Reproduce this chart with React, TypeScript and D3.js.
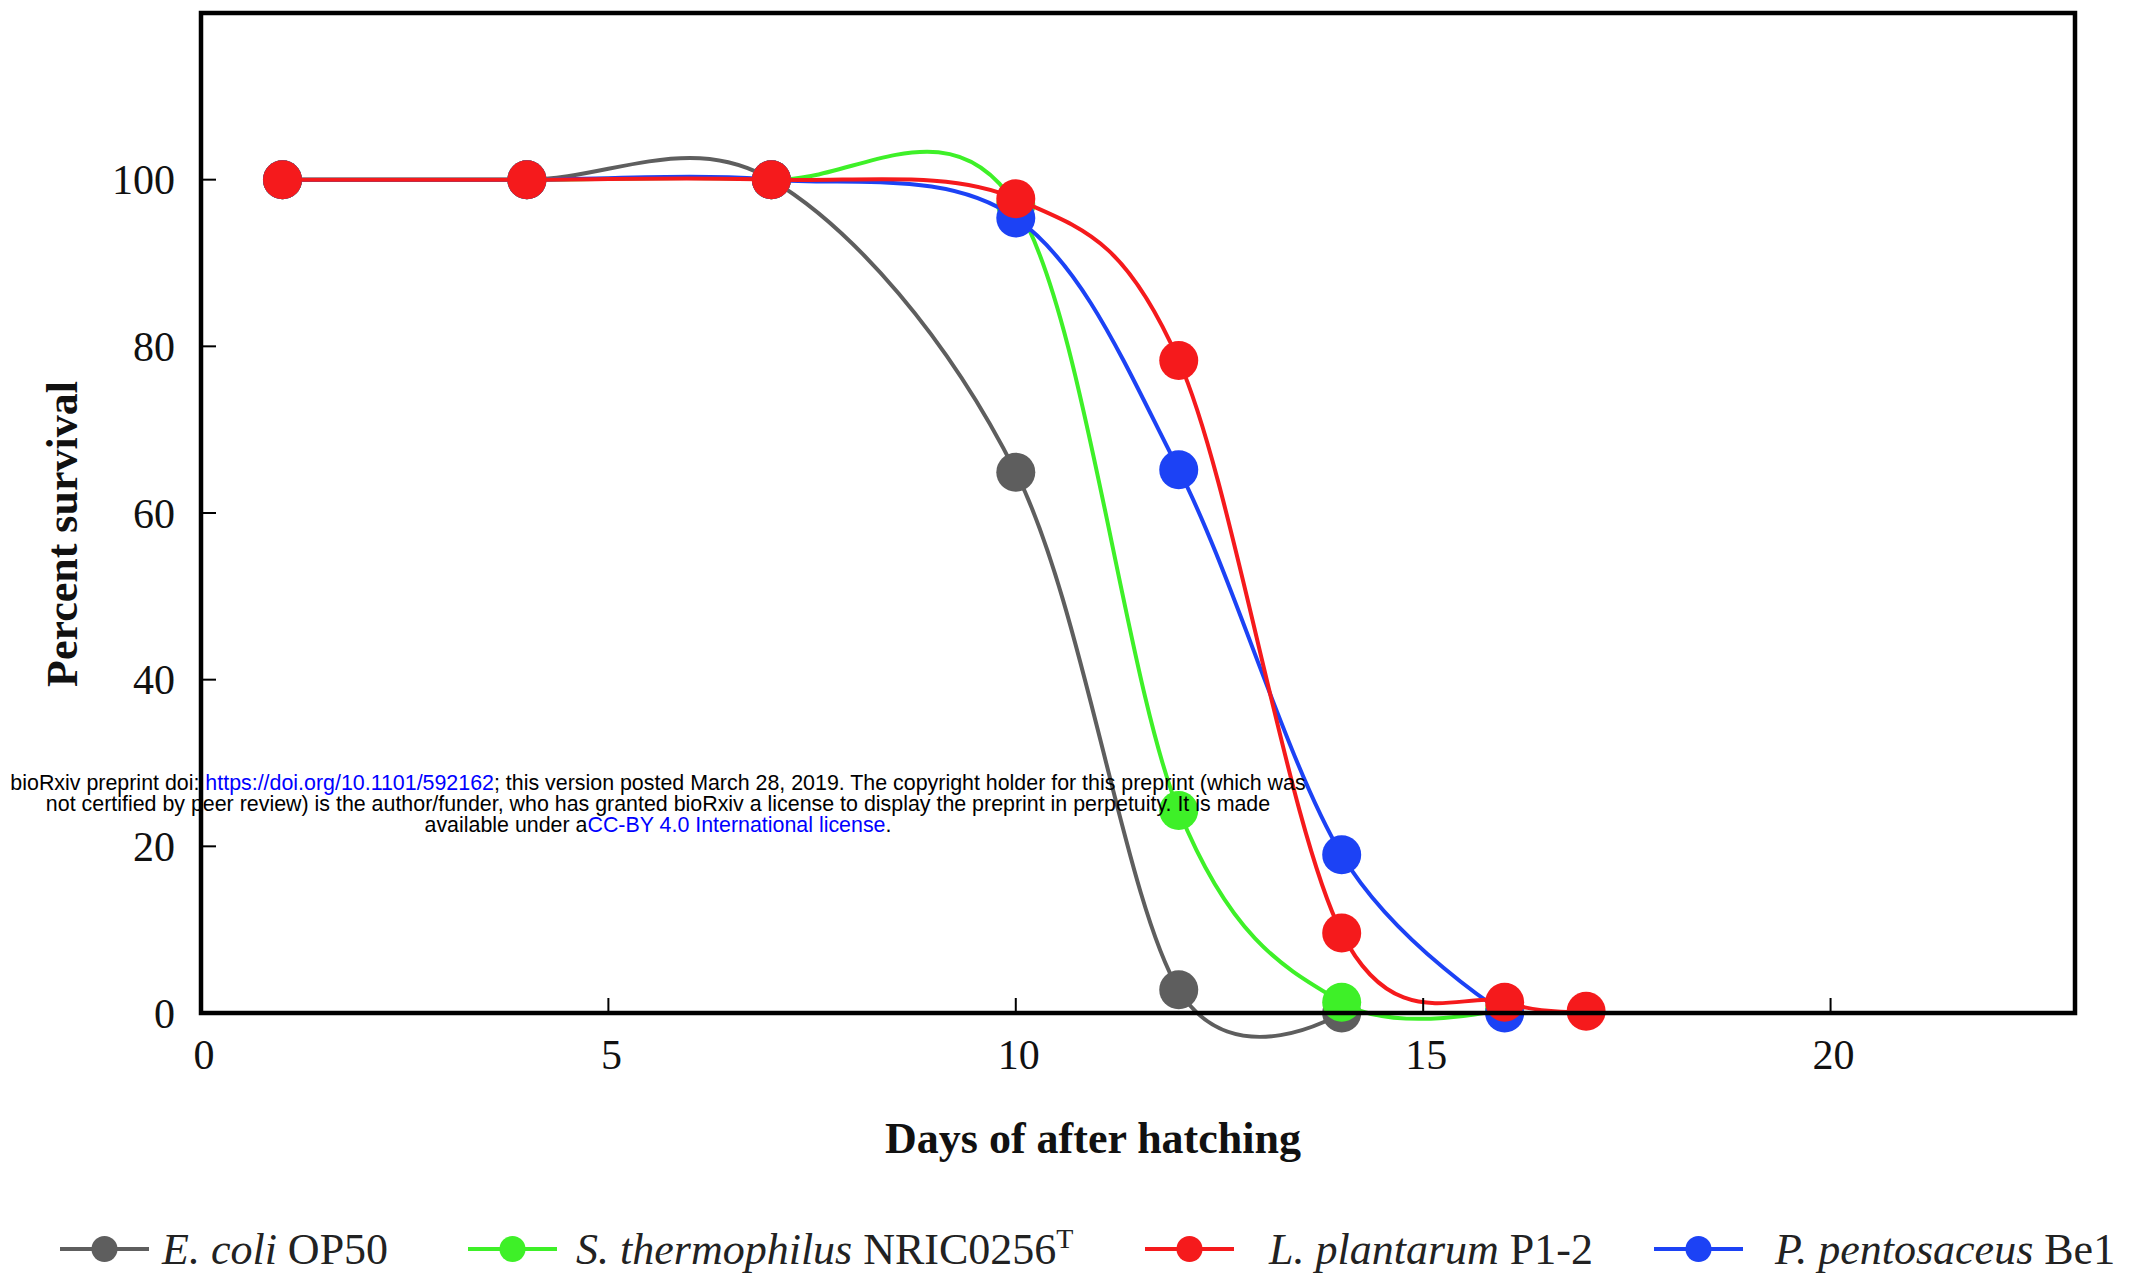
import React from 'react';
import * as d3 from 'd3';

const ecoliDays = [1, 4, 7, 10, 12, 14];
const ecoliSurv = [100, 100, 100, 64.9, 2.8, 0];
const sthermDays = [1, 4, 7, 10, 12, 14, 16];
const sthermSurv = [100, 100, 100, 97, 24.3, 1.3, 0.5];
const lplantDays = [1, 4, 7, 10, 12, 14, 16, 17];
const lplantSurv = [100, 100, 100, 97.7, 78.3, 9.6, 1.3, 0.2];
const ppentDays = [1, 4, 7, 10, 12, 14, 16];
const ppentSurv = [100, 100, 100, 95.4, 65.2, 19, 0];

const xTicks = [0, 5, 10, 15, 20];
const yTicks = [0, 20, 40, 60, 80, 100];

type Series = { key: string; italic: string; plain: string; sup?: string; color: string; days: number[]; surv: number[] };

const seriesList: Series[] = [
  { key: 'ecoli', italic: 'E. coli', plain: ' OP50', color: '#5e5e5e', days: ecoliDays, surv: ecoliSurv },
  { key: 'stherm', italic: 'S. thermophilus', plain: ' NRIC0256', sup: 'T', color: '#3ef028', days: sthermDays, surv: sthermSurv },
  { key: 'lplant', italic: 'L. plantarum', plain: ' P1-2', color: '#f51a1c', days: lplantDays, surv: lplantSurv },
  { key: 'ppent', italic: 'P. pentosaceus', plain: ' Be1', color: '#1c42f5', days: ppentDays, surv: ppentSurv },
];
const drawOrder = ['ecoli', 'stherm', 'ppent', 'lplant'];
const legendX = [60, 468, 1145, 1654];
const legendTextX = [162, 576, 1269, 1775];

export default function App() {
  const W = 2147, H = 1280;
  const x = d3.scaleLinear().domain([0, 23]).range([201, 2075]);
  const y = d3.scaleLinear().domain([0, 120]).range([1013, 13]);
  const line = d3.line<[number, number]>()
    .x(d => x(d[0]))
    .y(d => y(d[1]))
    .curve(d3.curveCardinal.tension(0));
  const serif = '"Liberation Serif", "DejaVu Serif", serif';
  const sans = '"Liberation Sans", Arial, sans-serif';

  return (
    <svg width={W} height={H} style={{ position: 'absolute', left: 0, top: 0, background: '#fff' }}>
      <rect x={0} y={0} width={W} height={H} fill="#fff" />
      {drawOrder.map(k => {
        const s = seriesList.find(z => z.key === k)!;
        const pts: [number, number][] = s.days.map((d, i) => [d, s.surv[i]]);
        return (
          <g key={k}>
            <path d={line(pts) || ''} fill="none" stroke={s.color} strokeWidth={4} />
            {pts.map((p, i) => (
              <circle key={i} cx={x(p[0])} cy={y(p[1])} r={19.5} fill={s.color} />
            ))}
          </g>
        );
      })}
      <rect x={x(0)} y={y(120)} width={x(23) - x(0)} height={y(0) - y(120)} fill="none" stroke="#000" strokeWidth={4.5} />
      {yTicks.map(t => (
        <g key={'y' + t}>
          <line x1={x(0)} x2={x(0) + 15} y1={y(t)} y2={y(t)} stroke="#000" strokeWidth={2} />
          <text x={175} y={y(t)} dy="0.35em" textAnchor="end" fontFamily={serif} fontSize={42} fill="#111">{t}</text>
        </g>
      ))}
      {xTicks.map(t => (
        <g key={'x' + t}>
          <line x1={x(t)} x2={x(t)} y1={y(0)} y2={y(0) - 15} stroke="#000" strokeWidth={2} />
          <text x={x(t) + 3} y={1054} dy="0.35em" textAnchor="middle" fontFamily={serif} fontSize={42} fill="#111">{t}</text>
        </g>
      ))}
      <text x={1093} y={1138} dy="0.35em" textAnchor="middle" fontFamily={serif} fontWeight="bold" fontSize={44} fill="#111">Days of after hatching</text>
      <text transform="translate(62,534) rotate(-90)" dy="0.35em" textAnchor="middle" fontFamily={serif} fontWeight="bold" fontSize={44} fill="#111">Percent survival</text>
      {seriesList.map((s, i) => {
        const lx = legendX[i];
        const ly = 1249;
        return (
          <g key={'lg' + s.key}>
            <line x1={lx} x2={lx + 89} y1={ly} y2={ly} stroke={s.color} strokeWidth={4} />
            <circle cx={lx + 44.5} cy={ly} r={13} fill={s.color} />
            <text x={legendTextX[i]} y={ly} dy="0.35em" fontFamily={serif} fontSize={44} fill="#222">
              <tspan fontStyle="italic">{s.italic}</tspan>
              <tspan>{s.plain}</tspan>
              {s.sup ? <tspan dy={-16} fontSize={28}>{s.sup}</tspan> : null}
            </text>
          </g>
        );
      })}
      <g fontFamily={sans} fontSize={21.4} fill="#000" textAnchor="middle">
        <text x={658} y={790}>
          <tspan>bioRxiv preprint doi: </tspan>
          <tspan fill="#0000ff">https://doi.org/10.1101/592162</tspan>
          <tspan>; this version posted March 28, 2019. The copyright holder for this preprint (which was</tspan>
        </text>
        <text x={658} y={811}>not certified by peer review) is the author/funder, who has granted bioRxiv a license to display the preprint in perpetuity. It is made</text>
        <text x={658} y={832}>
          <tspan>available under a</tspan>
          <tspan fill="#0000ff">CC-BY 4.0 International license</tspan>
          <tspan>.</tspan>
        </text>
      </g>
    </svg>
  );
}
